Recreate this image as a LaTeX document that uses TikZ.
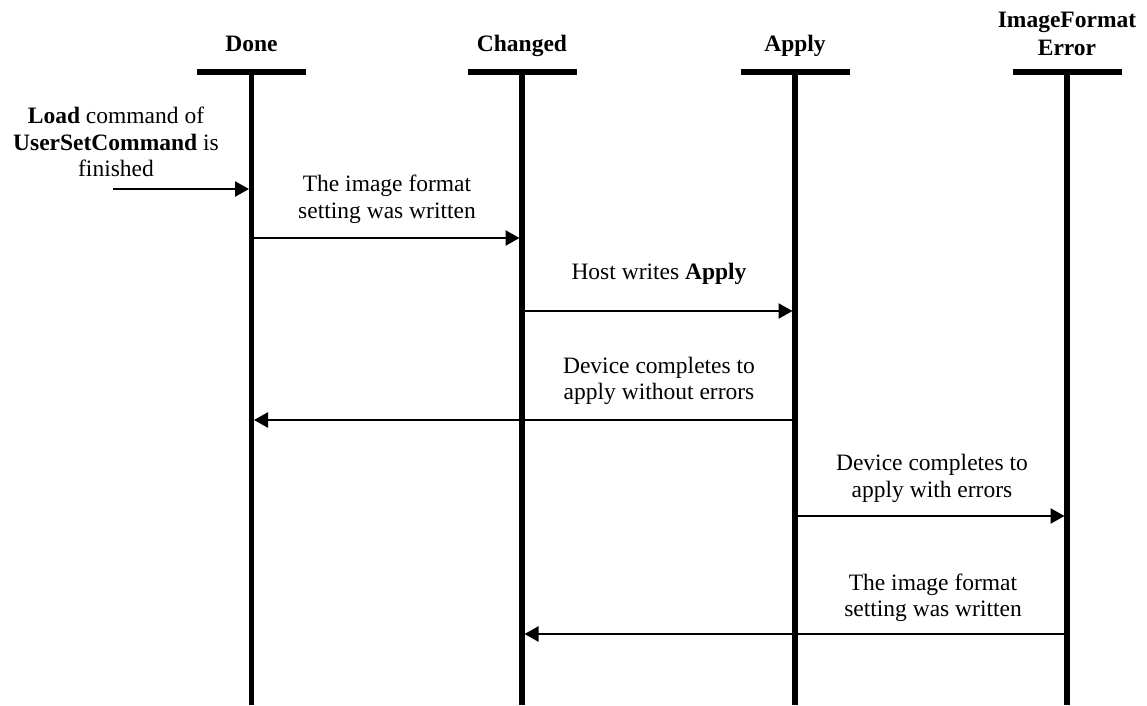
\documentclass[tikz,border=0pt]{standalone}
\usepackage{fontspec}
\setmainfont{Liberation Serif}
\usetikzlibrary{arrows.meta}
\begin{document}
\begin{tikzpicture}[x=1pt,y=-1pt,
  lifeline/.style={line width=5.5pt},
  headbar/.style={line width=6pt},
  msg/.style={line width=2.5pt,-{Triangle[length=14pt,width=15pt]},shorten >=2.5pt},
  lbl/.style={font=\fontsize{23.5}{26.5}\selectfont,align=center,inner sep=0pt},
  head/.style={font=\fontsize{23.5}{28}\selectfont\bfseries,align=center,inner sep=0pt}]
\useasboundingbox (0,0) rectangle (1147,705);
% lifelines
\foreach \n/\x in {done/251.5,changed/522,apply/795,ife/1067}{
  \coordinate (\n top) at (\x,72);
  \coordinate (\n bot) at (\x,705);
  \draw[headbar] (\x-54.5,72) -- (\x+54.5,72);
  \draw[lifeline] (\n top) -- (\n bot);
}
\node[head,anchor=base] (hdone) at (251.5,51) {Done};
\node[head,anchor=base] (hchanged) at (522,51) {Changed};
\node[head,anchor=base] (happly) at (795,51) {Apply};
\node[head] (hife) at (1067,33.5) {ImageFormat\\Error};
% message endpoints
\coordinate (start) at (113,189);
\coordinate (d1) at (251.5,189);
\coordinate (d2) at (251.5,238);  \coordinate (c2) at (522,238);
\coordinate (c3) at (522,311);    \coordinate (a3) at (795,311);
\coordinate (a4) at (795,420);    \coordinate (d4) at (251.5,420);
\coordinate (a5) at (795,516);    \coordinate (e5) at (1067,516);
\coordinate (e6) at (1067,634);   \coordinate (c6) at (522,634);
\draw[msg] (start) -- (d1);
\draw[msg] (d2) -- (c2);
\draw[msg] (c3) -- (a3);
\draw[msg] (a4) -- (d4);
\draw[msg] (a5) -- (e5);
\draw[msg] (e6) -- (c6);
% labels
\node[lbl] (l1) at (116,142) {\textbf{Load} command of\\\textbf{UserSetCommand} is\\finished};
\node[lbl] (l2) at (387,199.5) {The image format\\setting was written};
\node[lbl,anchor=base] (l3) at (659,279) {Host writes \textbf{Apply}};
\node[lbl] (l4) at (659,381) {Device completes to\\apply without errors};
\node[lbl] (l5) at (932,478.5) {Device completes to\\apply with errors};
\node[lbl] (l6) at (933,597.5) {The image format\\setting was written};
\end{tikzpicture}
\end{document}
